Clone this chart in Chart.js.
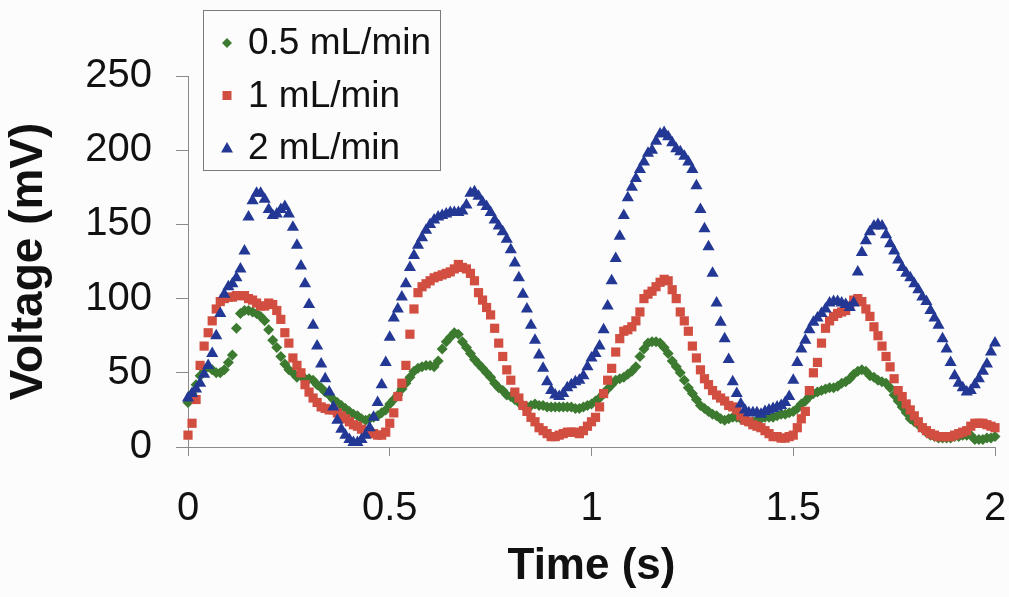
<!DOCTYPE html>
<html>
<head>
<meta charset="utf-8">
<script src="https://cdn.jsdelivr.net/npm/chart.js@4/dist/chart.umd.min.js"></script>
<style>
  html, body { margin: 0; padding: 0; background: #fcfcfc; }
  #wrap { width: 1009px; height: 597px; }
</style>
</head>
<body>
<div id="wrap"><canvas id="voltChart" width="1009" height="597"></canvas></div>
<script>
// samples every 0.01 s
const STEP = 0.01;

const seriesNames = ["0.5 mL/min", "1 mL/min", "2 mL/min"];
const xTicks = [0, 0.5, 1, 1.5, 2];
const yTicks = [0, 50, 100, 150, 200, 250];

const green = [
  30, 36, 42, 48, 52, 54, 52, 50, 50, 52,
  57, 62, 80, 90, 92, 92, 91, 90, 88, 85,
  79, 72, 67, 61, 56, 52, 50, 47, 48, 46,
  46, 45, 42, 40, 37, 35, 32, 30, 28, 26,
  24, 22, 21, 19, 18, 19, 20, 21, 23, 25,
  29, 32, 35, 39, 43, 47, 51, 53, 54, 55,
  55, 54, 58, 66, 71, 74, 77, 76, 71, 67,
  63, 59, 56, 53, 50, 47, 43, 40, 38, 35,
  34, 32, 30, 28, 27, 28, 29, 28, 28, 27,
  27, 27, 27, 27, 27, 27, 26, 26, 27, 28,
  29, 31, 33, 36, 39, 42, 45, 46, 47, 49,
  51, 54, 61, 66, 70, 71, 71, 70, 67, 63,
  58, 54, 50, 45, 40, 36, 32, 28, 26, 24,
  22, 21, 19, 18, 19, 20, 20, 19, 18, 17,
  17, 18, 19, 20, 20, 20, 21, 22, 22, 23,
  24, 26, 29, 31, 34, 36, 37, 38, 39, 40,
  40, 41, 43, 44, 46, 49, 51, 52, 51, 48,
  47, 45, 44, 43, 40, 35, 31, 27, 23, 19,
  17, 15, 13, 10, 8, 7, 6, 6, 6, 6,
  7, 7, 8, 8, 8, 5, 5, 5, 6, 6,
  7
];

const red = [
  8, 16, 32, 55, 68, 77, 85, 93, 98, 100,
  101, 101, 102, 102, 102, 100, 99, 97, 95, 95,
  97, 96, 92, 86, 77, 70, 60, 55, 50, 42,
  37, 33, 30, 27, 26, 25, 25, 23, 21, 19,
  17, 15, 14, 12, 11, 10, 9, 8, 8, 10,
  16, 23, 34, 43, 55, 76, 93, 104, 108, 110,
  112, 114, 115, 116, 117, 118, 120, 123, 121, 120,
  117, 112, 104, 99, 94, 89, 80, 70, 61, 52,
  45, 37, 33, 28, 24, 20, 17, 13, 11, 9,
  7, 7, 8, 9, 10, 10, 10, 9, 11, 14,
  17, 20, 27, 36, 45, 53, 64, 73, 78, 79,
  81, 85, 91, 100, 103, 105, 108, 111, 113, 112,
  106, 100, 91, 85, 78, 68, 60, 52, 46, 42,
  38, 35, 33, 31, 28, 27, 25, 21, 18, 17,
  15, 14, 13, 11, 9, 7, 7, 6, 6, 7,
  8, 13, 19, 24, 38, 50, 57, 70, 80, 85,
  88, 90, 91, 92, 95, 99, 100, 98, 93, 88,
  81, 75, 68, 61, 54, 46, 38, 34, 29, 25,
  21, 17, 13, 11, 9, 8, 7, 7, 7, 7,
  8, 9, 10, 11, 14, 16, 16, 16, 15, 14,
  13
];

const blue = [
  33, 36, 39, 43, 49, 55, 63, 75, 90, 103,
  108, 110, 114, 120, 132, 155, 166, 171, 171, 167,
  160, 156, 157, 160, 162, 157, 148, 136, 122, 110,
  96, 82, 68, 56, 46, 37, 27, 18, 12, 8,
  5, 3, 3, 5, 8, 13, 20, 30, 42, 57,
  74, 87, 93, 101, 110, 121, 129, 136, 141, 146,
  150, 153, 155, 156, 157, 158, 158, 158, 159, 163,
  171, 172, 169, 165, 162, 158, 153, 149, 145, 140,
  133, 124, 114, 103, 93, 82, 72, 62, 53, 44,
  38, 35, 34, 36, 40, 42, 44, 45, 48, 54,
  60, 63, 68, 79, 95, 112, 127, 142, 156, 168,
  175, 181, 187, 192, 198, 200, 206, 211, 212, 209,
  205, 201, 199, 196, 192, 187, 176, 160, 147, 135,
  117, 97, 84, 73, 59, 44, 36, 29, 25, 23,
  23, 23, 22, 24, 25, 26, 27, 28, 30, 34,
  45, 57, 66, 72, 79, 84, 87, 90, 93, 97,
  98, 98, 97, 96, 94, 97, 118, 131, 139, 145,
  149, 150, 149, 143, 137, 132, 126, 121, 117, 114,
  110, 106, 101, 98, 92, 87, 82, 73, 66, 57,
  48, 43, 40, 37, 38, 42, 46, 51, 56, 64,
  70
];

const colors = ["#3c7a30", "#d14e40", "#233894"];
const shapes = ["rectRot", "rect", "triangle"];
const radii = [5.5, 6.5, 7];

const FONT = "'Liberation Sans', Arial, sans-serif";
const AXIS_GREY = "#8a8a8a";

const toPoints = (vals) => vals.map((v, i) => ({ x: +(i * STEP).toFixed(2), y: v }));

// legend box sitting over the top-left of the plot
const legendBox = {
  id: "legendBox",
  afterDraw(chart) {
    const ctx = chart.ctx;
    const x0 = 203, y0 = 10, w = 237, h = 160;
    ctx.save();
    ctx.fillStyle = "#fcfcfc";
    ctx.fillRect(x0, y0, w, h);
    ctx.strokeStyle = "#7a7a7a";
    ctx.lineWidth = 1;
    ctx.strokeRect(x0 + 0.5, y0 + 0.5, w, h);
    ctx.font = "37px " + FONT;
    ctx.textBaseline = "middle";
    ctx.textAlign = "left";
    chart.data.datasets.forEach((ds, i) => {
      const cy = 43 + i * 52.5;
      const cx = 227;
      ctx.fillStyle = ds.backgroundColor;
      ctx.beginPath();
      if (ds.pointStyle === "rectRot") {
        ctx.moveTo(cx, cy - 5); ctx.lineTo(cx + 5, cy); ctx.lineTo(cx, cy + 5); ctx.lineTo(cx - 5, cy);
      } else if (ds.pointStyle === "rect") {
        ctx.rect(cx - 4.5, cy - 4.5, 9, 9);
      } else {
        ctx.moveTo(cx, cy - 6); ctx.lineTo(cx + 6, cy + 4.5); ctx.lineTo(cx - 6, cy + 4.5);
      }
      ctx.closePath();
      ctx.fill();
      ctx.fillStyle = "#111";
      ctx.fillText(ds.label, 248, cy + 1);
    });
    ctx.restore();
  }
};

const datasets = [green, red, blue].map((vals, i) => ({
  label: seriesNames[i],
  data: toPoints(vals),
  showLine: false,
  pointStyle: shapes[i],
  pointRadius: radii[i],
  pointHoverRadius: radii[i],
  pointBorderWidth: 0,
  backgroundColor: colors[i],
  borderColor: colors[i],
  order: 2 - i,   // later series drawn on top, like the source
  clip: false,
}));

new Chart(document.getElementById("voltChart"), {
  type: "scatter",
  data: { datasets },
  options: {
    responsive: false,
    animation: false,
    devicePixelRatio: 1,
    layout: { padding: { left: 0, right: 14, top: 76, bottom: 0 } },
    plugins: { legend: { display: false }, tooltip: { enabled: false } },
    scales: {
      x: {
        type: "linear",
        min: xTicks[0],
        max: xTicks[xTicks.length - 1],
        afterFit: (s) => { s.height = 150; s.paddingLeft = 0; s.paddingRight = 0; },
        afterBuildTicks: (s) => { s.ticks = xTicks.map((v) => ({ value: v })); },
        grid: { drawOnChartArea: false, drawTicks: true, tickLength: 9, color: AXIS_GREY },
        border: { color: AXIS_GREY, width: 1 },
        ticks: {
          padding: 29, color: "#111", font: { family: FONT, size: 40 }, maxRotation: 0,
          callback: (v) => String(v)
        },
        title: {
          display: true, text: "Time (s)", color: "#111",
          font: { family: FONT, size: 44, weight: "bold" },
          padding: { top: 0, bottom: 4 }
        }
      },
      y: {
        min: yTicks[0],
        max: yTicks[yTicks.length - 1],
        afterFit: (s) => { s.width = 188; s.paddingTop = 0; s.paddingBottom = 0; },
        afterBuildTicks: (s) => { s.ticks = yTicks.map((v) => ({ value: v })); },
        grid: { drawOnChartArea: false, drawTicks: true, tickLength: 12, color: AXIS_GREY },
        border: { color: AXIS_GREY, width: 1 },
        ticks: { padding: 24, color: "#111", font: { family: FONT, size: 40 } },
        title: {
          display: true, text: "Voltage (mV)", color: "#111",
          font: { family: FONT, size: 46, weight: "bold" },
          padding: { top: 2, bottom: 0 }
        }
      }
    }
  },
  plugins: [legendBox]
});
</script>
</body>
</html>
